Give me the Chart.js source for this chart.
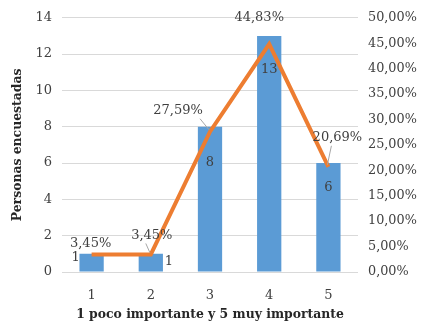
<!DOCTYPE html>
<html>
<head>
<meta charset="utf-8">
<script src="https://cdn.jsdelivr.net/npm/chart.js@4/dist/chart.umd.min.js"></script>
<style>
  html, body { margin: 0; padding: 0; background: #fff; }
  #wrap { width: 421px; height: 322px; }
</style>
</head>
<body>
<div id="wrap"><canvas id="chart" width="421" height="322"></canvas></div>
<script>
const categories = ["1", "2", "3", "4", "5"];
const personas = [1, 1, 8, 13, 6];
const porcentajes = [3.45, 3.45, 27.59, 44.83, 20.69];

// label offsets relative to each mark (layout only)
const barLabelOffsets = [[-16, 4], [18, 8], [0, 36], [0, 34], [0, 25]];
const pctLabelOffsets = [[-1, -11], [1, -19], [-32, -21], [-10, -26], [9, -29]];
const pctLeaders = [false, true, true, false, true];

const fmtPct = (v) => v.toFixed(2).replace(".", ",") + "%";
const FONT = "'DejaVu Serif', 'Liberation Serif', serif";
const textColor = "#404040";

const labelPlugin = {
  id: "labels",
  afterDatasetsDraw(chart) {
    const ctx = chart.ctx;
    ctx.save();
    ctx.font = "13px " + FONT;
    ctx.fillStyle = textColor;
    ctx.textAlign = "center";
    ctx.textBaseline = "middle";

    chart.getDatasetMeta(0).data.forEach((bar, i) => {
      const [dx, dy] = barLabelOffsets[i];
      ctx.fillText(String(personas[i]), bar.x + dx, bar.y + dy);
    });

    chart.getDatasetMeta(1).data.forEach((pt, i) => {
      const [dx, dy] = pctLabelOffsets[i];
      const tx = pt.x + dx, ty = pt.y + dy;
      if (pctLeaders[i]) {
        ctx.strokeStyle = "#a6a6a6";
        ctx.lineWidth = 1;
        ctx.beginPath();
        ctx.moveTo(tx + (dx < 0 ? 22 : -6), ty + 8);
        ctx.lineTo(pt.x - 1, pt.y - 2);
        ctx.stroke();
      }
      ctx.fillText(fmtPct(porcentajes[i]), tx, ty);
    });
    ctx.restore();
  }
};

new Chart(document.getElementById("chart"), {
  type: "bar",
  data: {
    labels: categories,
    datasets: [
      {
        type: "bar",
        data: personas,
        yAxisID: "y",
        backgroundColor: "#5B9BD5",
        categoryPercentage: 1,
        barPercentage: 0.41,
        order: 1
      },
      {
        type: "line",
        data: porcentajes,
        yAxisID: "y1",
        borderColor: "#ED7D31",
        borderWidth: 4,
        pointRadius: 0,
        tension: 0,
        order: 0
      }
    ]
  },
  options: {
    responsive: false,
    animation: false,
    layout: { padding: { top: 9, left: 6, right: 0, bottom: 0 } },
    plugins: { legend: { display: false }, tooltip: { enabled: false } },
    scales: {
      x: {
        grid: { display: false },
        border: { display: false },
        ticks: { color: textColor, font: { family: FONT, size: 13 }, padding: 8 },
        title: {
          display: true,
          text: "1 poco importante y 5 muy importante",
          color: "#262626",
          font: { family: FONT, size: 12.4, weight: "bold" },
          padding: { top: 4, bottom: 0 }
        },
        afterFit(s) { s.height = 50; }
      },
      y: {
        position: "left",
        min: 0, max: 14,
        ticks: { stepSize: 2, color: textColor, font: { family: FONT, size: 13 }, padding: 10 },
        grid: { color: "#d9d9d9", drawTicks: false },
        border: { display: false },
        title: {
          display: true,
          text: "Personas encuestadas",
          color: "#262626",
          font: { family: FONT, size: 12.4, weight: "bold" },
          padding: { bottom: 4 }
        },
        afterFit(s) { s.width = 56; }
      },
      y1: {
        position: "right",
        min: 0, max: 50,
        ticks: {
          stepSize: 5, color: textColor, font: { family: FONT, size: 12.8 }, padding: 10,
          callback: (v) => v.toFixed(2).replace(".", ",") + "%"
        },
        grid: { display: false, drawTicks: false },
        border: { display: false },
        afterFit(s) { s.width = 63; }
      }
    }
  },
  plugins: [labelPlugin]
});
</script>
</body>
</html>
